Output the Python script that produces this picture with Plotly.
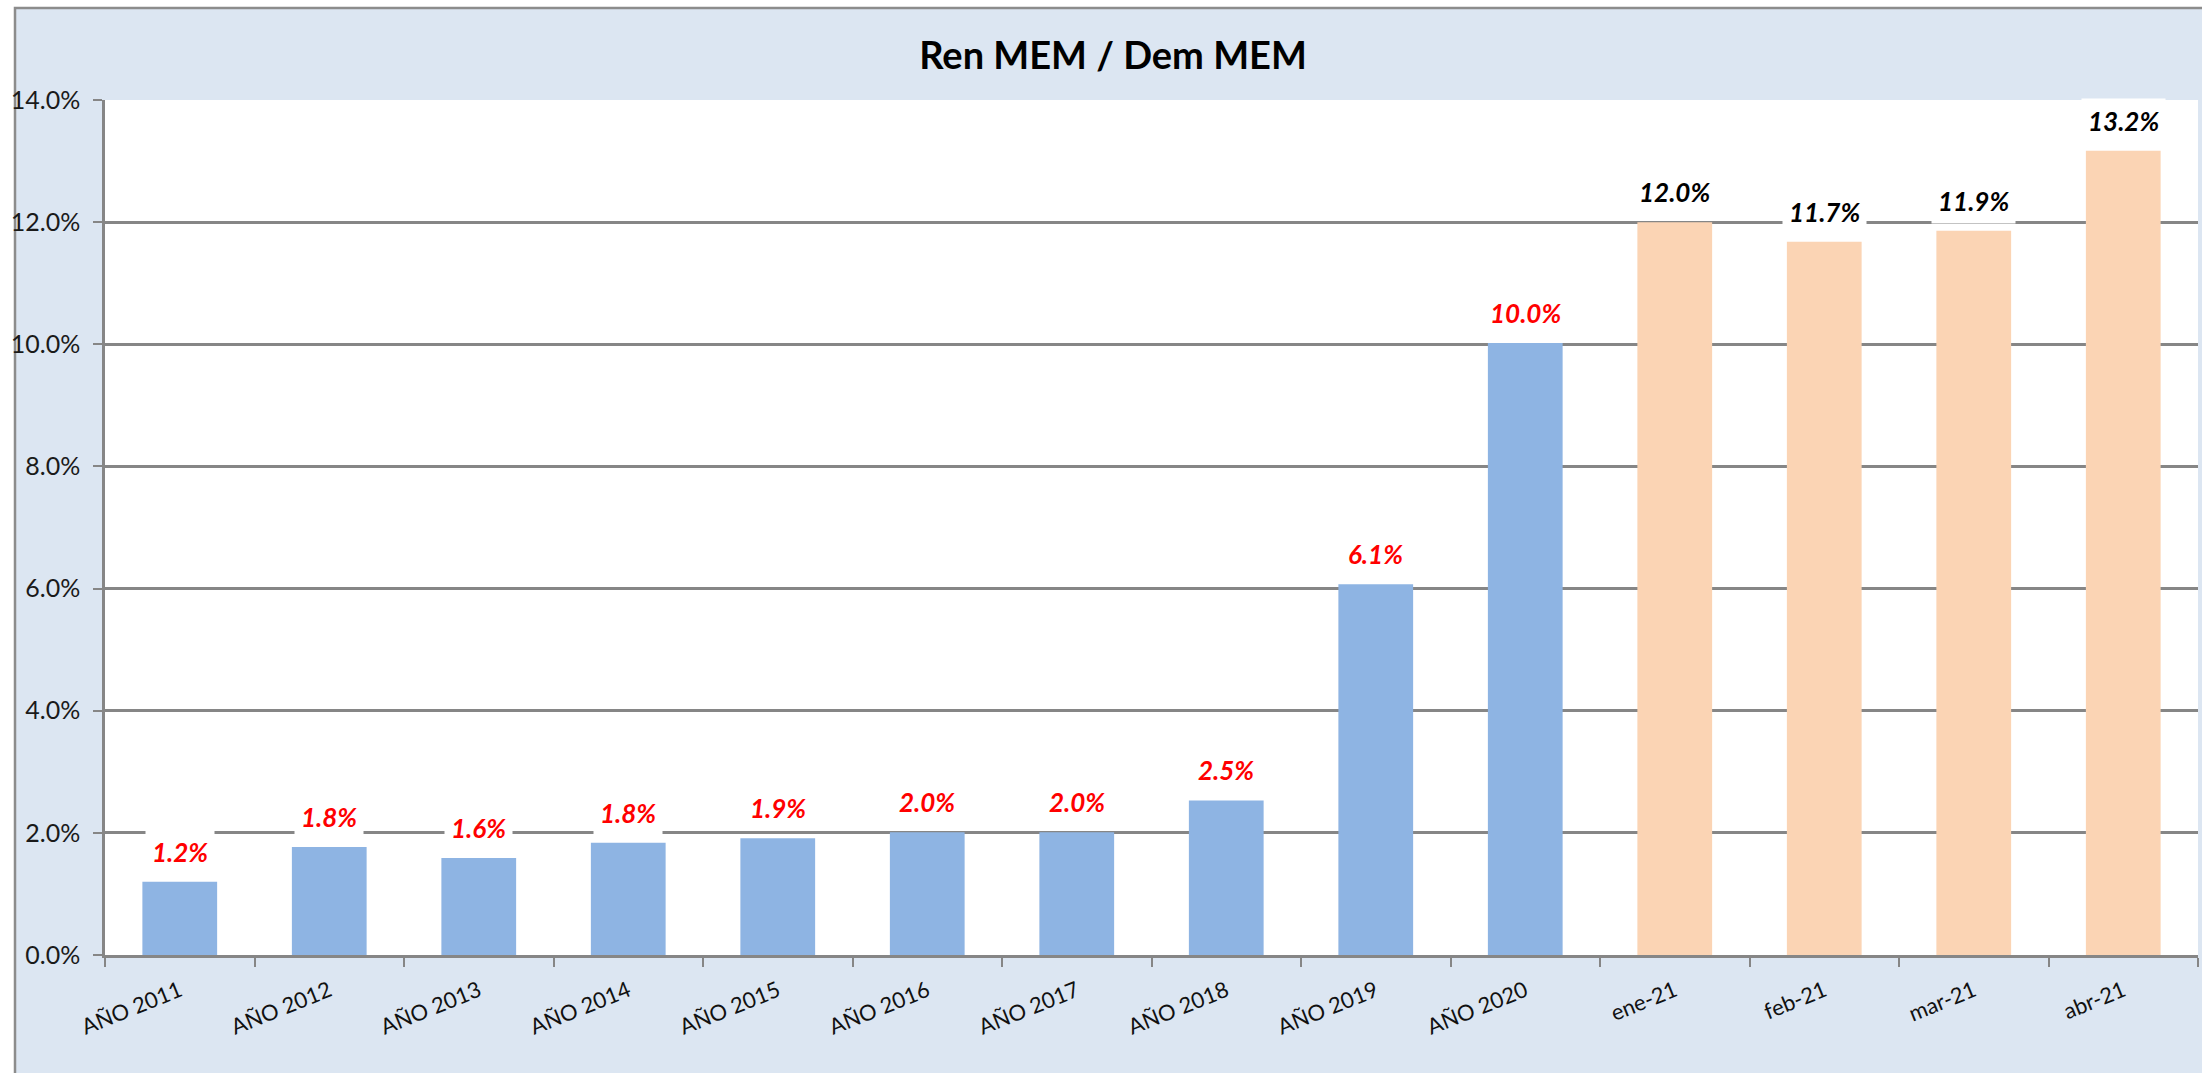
import plotly.graph_objects as go

# ---------------- data ----------------
annual_cats = ["AÑO 2011", "AÑO 2012", "AÑO 2013", "AÑO 2014", "AÑO 2015",
               "AÑO 2016", "AÑO 2017", "AÑO 2018", "AÑO 2019", "AÑO 2020"]
annual_vals = [0.0120, 0.0177, 0.0159, 0.0184, 0.0191,
               0.0201, 0.0201, 0.0253, 0.0607, 0.1002]
month_cats = ["ene-21", "feb-21", "mar-21", "abr-21"]
month_vals = [0.1200, 0.1168, 0.1186, 0.1317]

title_text = "Ren MEM / Dem MEM"
y_ticks = [0, 0.02, 0.04, 0.06, 0.08, 0.10, 0.12, 0.14]

# ---------------- layout constants (pixels) ----------------
W, H = 2202, 1073
L, R, T, B = 105, 4, 100, 118
plot_w = W - L - R
plot_h = H - T - B

def px_x(p):
    return (p - L) / plot_w

def px_y(p):
    return 1 - (p - T) / plot_h

FONT = "Lato, 'Noto Sans', 'DejaVu Sans', sans-serif"
BLUE = "#8EB4E3"
PEACH = "#FBD4B4"
GRID = "#868686"

fig = go.Figure()
fig.add_trace(go.Bar(x=annual_cats, y=annual_vals, marker=dict(color=BLUE, line=dict(width=0)),
                     width=0.5, hoverinfo="x+y"))
fig.add_trace(go.Bar(x=month_cats, y=month_vals, marker=dict(color=PEACH, line=dict(width=0)),
                     width=0.5, hoverinfo="x+y"))

annotations = []
for cats, vals, col in [(annual_cats, annual_vals, "#FF0000"), (month_cats, month_vals, "#000000")]:
    for c, v in zip(cats, vals):
        annotations.append(dict(x=c, y=v, xref="x", yref="y", text=f"{v*100:.1f}%",
                                showarrow=False, yanchor="middle", yshift=30,
                                bgcolor="white", borderpad=6,
                                font=dict(family=FONT, size=26, color=col,
                                          weight="bold", style="italic")))

shapes = [
    # outer chart area (light blue with gray border)
    dict(type="rect", xref="paper", yref="paper", layer="below",
         x0=px_x(15), x1=px_x(W + 20), y0=px_y(H + 20), y1=px_y(8),
         fillcolor="#DCE6F2", line=dict(color="#8C8C8C", width=2.5)),
    # white plot area
    dict(type="rect", xref="paper", yref="paper", layer="below",
         x0=0, x1=1, y0=0, y1=1, fillcolor="white", line=dict(width=0)),
]

fig.update_layout(
    width=W, height=H,
    margin=dict(l=L, r=R, t=T, b=B, autoexpand=False),
    paper_bgcolor="white", plot_bgcolor="white",
    barmode="overlay", showlegend=False,
    title=dict(text=title_text, x=1113 / W, y=1 - 56 / H, xref="container", yref="container",
               xanchor="center", yanchor="middle",
               font=dict(family=FONT, size=38, color="#000000", weight="bold")),
    font=dict(family=FONT, color="#262626"),
    annotations=annotations, shapes=shapes,
    xaxis=dict(type="category", categoryorder="array", categoryarray=annual_cats + month_cats,
               showline=True, linecolor=GRID, linewidth=2.5,
               ticks="outside", tickson="boundaries", ticklen=9, tickwidth=2, tickcolor=GRID,
               tickangle=-22, tickfont=dict(family=FONT, size=22, color="#111111"),
               ticklabelstandoff=12, showgrid=False, range=[-0.5, 13.5]),
    yaxis=dict(range=[0, 0.14], tickvals=y_ticks, tickformat=".1%",
               showline=True, linecolor=GRID, linewidth=2.5,
               ticks="outside", ticklen=9, tickwidth=2, tickcolor=GRID,
               showgrid=True, gridcolor=GRID, gridwidth=2.5, zeroline=False,
               tickfont=dict(family=FONT, size=25, color="#1a1a1a"), ticklabelstandoff=8),
)

fig.write_html("out.html", config={"displayModeBar": False},
               post_script="document.body.style.margin='0';document.body.style.overflow='hidden';")
